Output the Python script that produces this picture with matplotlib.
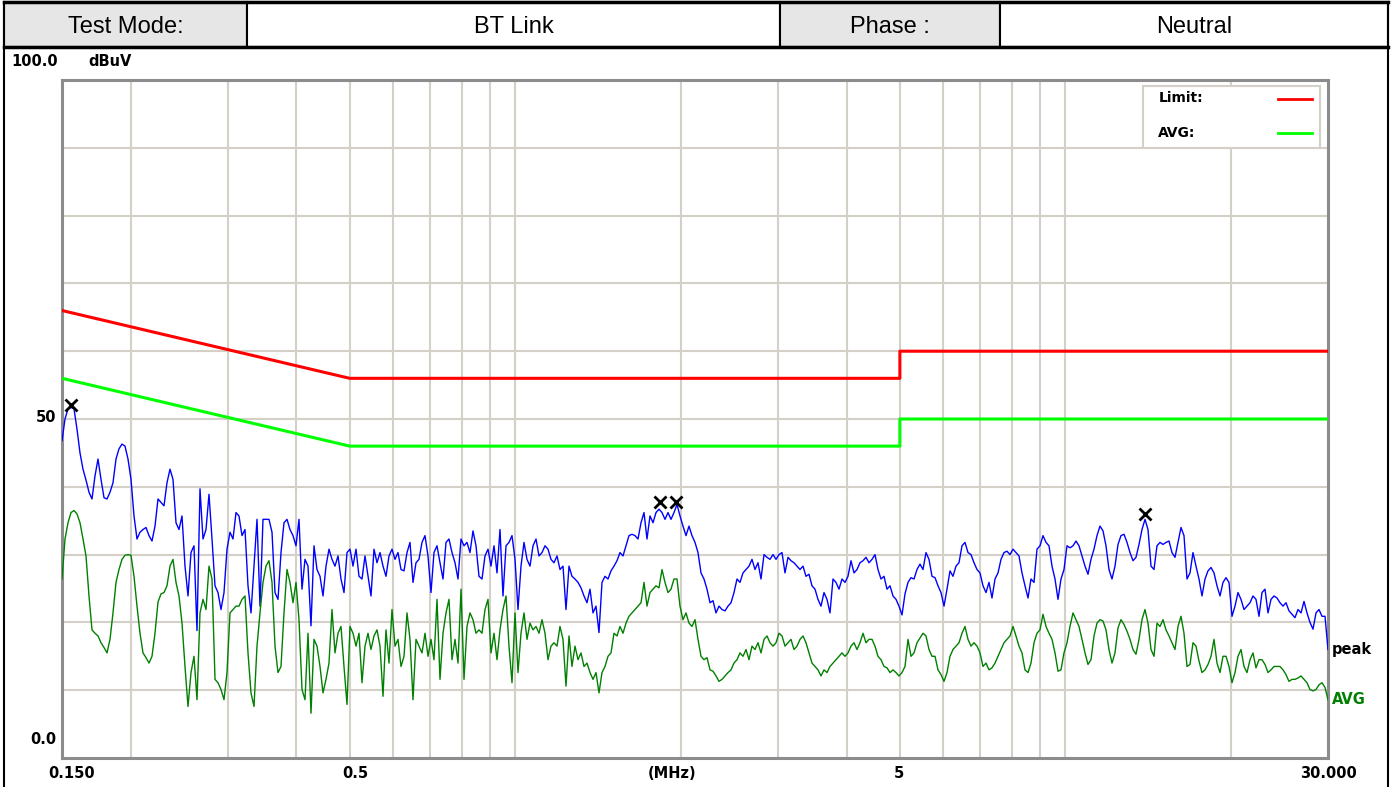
import numpy as np
import matplotlib
matplotlib.use('Agg')
import matplotlib.pyplot as plt
from matplotlib.patches import Rectangle

# header cells
header_text = ['Test Mode:', 'BT Link', 'Phase :', 'Neutral']
header_edges = [4, 247, 780, 1000, 1388]
header_fill = ['#e6e6e6', 'white', '#e6e6e6', 'white']

# limit lines (MHz, dBuV)
limit_freq = [0.15, 0.5, 0.5, 5, 5, 30]
limit_qp = [66, 56, 56, 56, 60, 60]
limit_avg = [56, 46, 46, 46, 50, 50]

# peak trace, sampled on a log grid 0.15 - 30 MHz
peak = [
    46.8, 50, 51.5, 51.7, 51.5, 48.5, 45, 42.6, 41, 39.2,
    38.2, 41.6, 44.1, 41.1, 38.4, 38.2, 39.2, 40.6, 44.1, 45.6,
    46.3, 46, 44.1, 41.1, 35.7, 32.3, 33.3, 33.7, 34, 32.8,
    32, 34.2, 38.2, 37.7, 37.2, 40.6, 42.6, 41.1, 34.7, 33.7,
    35.7, 28.3, 23.9, 30.3, 31.3, 18.8, 39.7, 32.3, 33.7, 38.9,
    32.3, 25.4, 24.4, 21.9, 24.4, 30.8, 33.3, 32.3, 36.2, 35.7,
    32.8, 33.7, 25.4, 21.4, 28.3, 35.2, 22.4, 35.2, 35.2, 35.2,
    33.3, 24.4, 23.4, 30.3, 34.7, 35.2, 33.7, 32.8, 31.3, 35.2,
    24.9, 29.3, 28.3, 19.5, 31.3, 27.8, 26.8, 23.9, 28.3, 30.8,
    29.3, 28.3, 29.8, 26.4, 24.4, 30.3, 30.8, 28.3, 30.8, 26.8,
    26.4, 29.8, 26.8, 23.9, 30.8, 28.8, 30.3, 28.3, 26.8, 29.8,
    30.8, 29.3, 30.3, 27.8, 27.6, 30.3, 31.8, 25.9, 28.8, 29.3,
    31.8, 32.8, 29.8, 24.4, 30.3, 31.3, 28.8, 26.4, 31.8, 32.3,
    30.3, 28.8, 26.4, 32.3, 31.3, 31.8, 30.3, 33.5, 31.3, 26.8,
    26.4, 29.8, 30.8, 28.3, 31.3, 27.3, 33.7, 23.9, 31.3, 31.8,
    32.8, 29.3, 21.9, 28.3, 31.8, 29.3, 28.3, 31.3, 32.3, 29.8,
    30.3, 31.3, 30.8, 29.3, 28.8, 29.8, 27.8, 28.3, 21.9, 28.3,
    26.8, 26.4, 25.9, 25.1, 23.9, 22.9, 24.9, 21.4, 22.4, 18.5,
    25.9, 26.8, 26.4, 27.6, 28.3, 29.1, 30.3, 29.8, 31.3, 32.8,
    33, 32.8, 32.3, 34.7, 36.2, 32.3, 35.7, 34.7, 36.2, 36.7,
    36.2, 35.2, 36.2, 35.2, 36.2, 37.4, 35.7, 34.2, 32.8, 34.2,
    32.8, 31.8, 30.3, 27.3, 26.4, 24.9, 22.9, 23.2, 21.4, 22.4,
    21.9, 21.7, 22.4, 22.9, 24.4, 26.4, 25.9, 27.3, 27.8, 28.3,
    29.3, 27.8, 28.8, 26.4, 30, 29.6, 29.3, 30, 29.3, 30,
    30.3, 27.3, 29.6, 29.1, 28.8, 28.3, 27.8, 28.3, 26.8, 27.1,
    25.4, 24.9, 23.4, 22.4, 24.4, 23.4, 21.4, 26.4, 25.9, 24.9,
    26.4, 25.9, 26.8, 29.1, 27.3, 27.8, 28.8, 29.1, 29.6, 28.8,
    29.3, 30, 27.8, 26.4, 26.8, 24.9, 25.4, 23.9, 23.4, 22.4,
    21.1, 24.2, 25.9, 26.6, 26.4, 27.8, 28.6, 27.8, 30.3, 29.3,
    26.8, 26.6, 25.4, 24.4, 22.4, 24.9, 27.6, 26.8, 28.3, 28.8,
    31.3, 31.8, 30.3, 30, 28.8, 27.8, 27.3, 25.4, 24.4, 25.9,
    23.6, 26.4, 27.3, 29.3, 30.3, 30.5, 30, 30.8, 30.3, 29.8,
    27.3, 25.4, 23.6, 26.4, 25.9, 30.8, 31.3, 32.8, 31.8, 31.3,
    28.3, 26.4, 23.4, 26.4, 27.8, 31.3, 31, 31.3, 32, 31.3,
    29.8, 28.3, 27.1, 29.3, 30.8, 32.8, 34.2, 33.5, 31.3, 27.8,
    26.4, 28.3, 31.5, 32.8, 33, 31.8, 30.3, 29.1, 29.6, 31.5,
    33.7, 35.2, 33.7, 28.3, 27.8, 31.3, 31.8, 31.5, 31.8, 32,
    30.3, 29.6, 31.8, 34, 32.8, 26.4, 27.3, 30.3, 28.3, 26.4,
    23.9, 26.4, 27.6, 28.1, 27.3, 25.4, 23.9, 25.9, 26.6, 25.9,
    20.9, 22.4, 24.4, 23.4, 21.9, 22.4, 22.9, 23.9, 23.4, 20.9,
    24.4, 24.9, 21.4, 23.4, 23.9, 23.6, 22.9, 22.4, 22.9, 21.7,
    21.2, 20.7, 21.9, 21.4, 23.1, 21.4, 20, 19, 21.4, 21.9,
    20.9, 20.9, 16,
]

# average trace, same grid
avg = [
    26.4, 32.3, 34.7, 36.2, 36.5, 36, 34.7, 32.3, 29.8, 23.9,
    18.9, 18.4, 18, 17, 16.3, 15.5, 17.5, 21.4, 25.9, 27.8,
    29.3, 29.9, 30, 29.9, 26.8, 22.4, 18.4, 15.5, 14.8, 14,
    15, 18.4, 23, 24.2, 24.4, 25.4, 28.3, 29.3, 25.9, 23.9,
    19.9, 13.5, 7.6, 12.6, 15, 8.6, 21.4, 23.4, 21.9, 28.3,
    26.4, 11.6, 11.1, 10.1, 8.6, 12.6, 21.4, 21.9, 22.4, 22.4,
    23.4, 23.9, 15.5, 9.6, 7.6, 16.5, 21.4, 25.9, 28.3, 29.1,
    25.9, 16.5, 12.6, 13.5, 21.4, 27.8, 25.9, 22.9, 25.9, 20.4,
    10.1, 8.6, 18.4, 6.6, 17.5, 16.5, 13.5, 9.6, 11.6, 14,
    21.9, 15.5, 18.4, 19.4, 13.5, 7.9, 19.4, 18.4, 16.5, 18.4,
    11.1, 16.5, 18.4, 16, 18, 18.9, 16.5, 9.1, 18.9, 14,
    21.9, 16.5, 17.5, 13.5, 15, 21.4, 17.5, 8.6, 17.5, 16.5,
    15.5, 18.4, 15, 17.5, 14.5, 23.4, 11.6, 18.4, 21.4, 23.4,
    14.5, 17.5, 14, 24.9, 11.6, 19.4, 21.4, 20.4, 18.4, 18.9,
    18.4, 21.9, 23.4, 15.5, 18.4, 14.5, 18.9, 21.9, 23.9, 16.5,
    11.1, 21.4, 12.6, 18.4, 21.4, 17.5, 19.9, 18.9, 19.4, 18.4,
    20.4, 18.4, 14.5, 16.5, 17, 16.5, 19.4, 17.5, 10.6, 18,
    13.5, 16.5, 14.5, 15.5, 13.5, 14, 12.6, 11.6, 12.6, 9.6,
    12.6, 13.5, 15, 15.5, 18.4, 18, 19.4, 18.4, 19.9, 20.9,
    21.4, 21.9, 22.4, 22.9, 25.9, 22.4, 24.4, 24.9, 25.4, 25.1,
    27.8, 25.9, 24.4, 24.9, 26.4, 26.4, 22.4, 20.4, 21.4, 19.9,
    19.4, 20.4, 17.5, 15, 14.5, 14.8, 13, 12.8, 12.1, 11.3,
    11.6, 12.1, 12.6, 13, 14, 14.5, 15.5, 15, 16, 14.5,
    16.5, 16, 17, 15.5, 17.5, 18, 17, 16.5, 17, 18.4,
    18, 16.5, 17, 17.5, 16, 16.5, 17.5, 18, 17, 15.5,
    14, 13.5, 13, 12.1, 13, 12.6, 13.5, 14, 14.5, 15,
    15.5, 15, 15.5, 16.5, 17, 16, 17, 18.4, 17, 17.5,
    17.5, 16.5, 15, 14.5, 13.5, 13.3, 12.6, 13, 12.6, 12.1,
    12.6, 13.5, 17.5, 15, 15.5, 17, 17.7, 18.4, 18, 16,
    15, 15, 13, 12.3, 11.3, 12.6, 15, 16, 16.5, 17,
    18.4, 19.4, 17.5, 16.5, 17, 16.5, 15.5, 13.5, 14, 13,
    13.3, 14, 15, 16, 17, 17.5, 18, 19.4, 18, 16.5,
    15.5, 13, 12.6, 14, 17, 18.4, 18.9, 21.2, 19.4, 18.4,
    17.5, 15.5, 12.8, 13, 15.5, 17, 19.4, 21.4, 20.4, 19.4,
    17.5, 15.5, 13.8, 14.5, 18, 19.9, 20.4, 20.2, 18.9, 16,
    14, 15.5, 19.2, 20.4, 19.7, 18.7, 17.5, 16, 15.3, 17.5,
    20.4, 21.9, 19.9, 16, 15, 19.9, 19.4, 20.4, 18.9, 18,
    17, 16, 19.4, 20.9, 18.4, 13.5, 13.8, 17, 16.5, 14.3,
    12.6, 13, 13.8, 15, 17.5, 14, 12.6, 15, 15, 13.5,
    11.1, 12.6, 15, 16, 13.5, 12.6, 14.5, 15.5, 13.3, 14.5,
    14.5, 13.8, 12.6, 13, 13.5, 13.5, 13.5, 13, 12.3, 11.3,
    11.6, 11.6, 11.8, 12.1, 11.6, 11.1, 10.1, 9.9, 10.1, 10.8,
    11.1, 10.4, 8.6,
]

# peak markers
marker_freq = [0.156, 1.836, 1.962, 13.97]
marker_level = [52.1, 37.7, 37.7, 36.0]

grid_freq = [0.2, 0.3, 0.4, 0.5, 0.6, 0.7, 0.8, 0.9, 1, 2, 3, 4, 5, 6, 7, 8, 9, 10, 20]
grid_level = [10, 20, 30, 40, 50, 60, 70, 80, 90]

freq = np.geomspace(0.15, 30, len(peak))

W, H = 1393, 787
fig = plt.figure(figsize=(W / 100, H / 100), dpi=100)
fig.patch.set_facecolor('white')

# background frame + header in pixel coordinates
bg = fig.add_axes([0, 0, 1, 1])
bg.set_xlim(0, W)
bg.set_ylim(H, 0)
bg.axis('off')
for i, t in enumerate(header_text):
    x0, x1 = header_edges[i], header_edges[i + 1]
    bg.add_patch(Rectangle((x0, 2), x1 - x0, 45, facecolor=header_fill[i],
                           edgecolor='black', lw=1.5))
    bg.text((x0 + x1) / 2, 27, t, ha='center', va='center', fontsize=17,
            family='Liberation Sans')
bg.plot([4, 1388], [2, 2], color='black', lw=2.5)
bg.plot([4, 1388], [47, 47], color='black', lw=2.5)
bg.plot([4, 4], [2, H], color='black', lw=1.5)
bg.plot([1388, 1388], [2, H], color='black', lw=1.5)

ax = fig.add_axes([62 / W, (H - 758) / H, 1266 / W, 678 / H])
ax.set_xscale('log')
ax.set_xlim(0.15, 30)
ax.set_ylim(0, 100)
ax.minorticks_off()
ax.set_xticks(grid_freq)
ax.set_yticks(grid_level)
ax.tick_params(length=0, labelbottom=False, labelleft=False)
ax.grid(True, color='#d4d0c8', lw=1.5)
ax.set_axisbelow(True)
for s in ax.spines.values():
    s.set_color('#8c8c8c')
    s.set_linewidth(2.2)

ax.plot(limit_freq, limit_qp, color='#ff0000', lw=2.2, zorder=3)
ax.plot(limit_freq, limit_avg, color='#00ff00', lw=2.2, zorder=3)
ax.plot(freq, peak, color='#0000ff', lw=1.0, zorder=4)
ax.plot(freq, avg, color='#008000', lw=1.0, zorder=4)
ax.plot(marker_freq, marker_level, 'x', color='black', ms=9, mew=2, zorder=5)

# legend box
ax.add_patch(Rectangle((0.854, 0.900), 0.1397, 0.091, transform=ax.transAxes,
                       facecolor='white', edgecolor='#d4d0c8', lw=1.5, zorder=6))
ax.text(0.866, 0.973, 'Limit:', transform=ax.transAxes, fontsize=10,
        fontweight='bold', va='center', zorder=7)
ax.text(0.866, 0.922, 'AVG:', transform=ax.transAxes, fontsize=10,
        fontweight='bold', va='center', zorder=7)
ax.plot([0.9605, 0.987], [0.972, 0.972], color='#ff0000', lw=2,
        transform=ax.transAxes, zorder=7)
ax.plot([0.9605, 0.987], [0.922, 0.922], color='#00ff00', lw=2,
        transform=ax.transAxes, zorder=7)

# axis labels
lab = dict(fontsize=10.5, fontweight='bold', family='DejaVu Sans')
for f, dx, s in [(0.15, 10, '0.150'), (0.5, 6, '0.5'), (5, -1, '5'),
                 (30, 0, '30.000'), (1.93, 0, '(MHz)')]:
    ax.annotate(s, xy=(f, 0), xycoords=('data', 'axes fraction'),
                xytext=(dx, -15), textcoords='offset pixels',
                ha='center', va='center', annotation_clip=False, **lab)
ax.annotate('100.0', xy=(0, 1), xycoords='axes fraction', xytext=(-27, 18),
            textcoords='offset pixels', ha='center', va='center', **lab)
ax.annotate('dBuV', xy=(0, 1), xycoords='axes fraction', xytext=(48, 18),
            textcoords='offset pixels', ha='center', va='center', **lab)
ax.annotate('50', xy=(0, 50), xycoords=('axes fraction', 'data'), xytext=(-6, 1),
            textcoords='offset pixels', ha='right', va='center', **lab)
ax.annotate('0.0', xy=(0, 0), xycoords='axes fraction', xytext=(-6, 18),
            textcoords='offset pixels', ha='right', va='center', **lab)
ax.annotate('peak', xy=(30, peak[-1]), xytext=(4, 0), textcoords='offset pixels',
            ha='left', va='center', annotation_clip=False, **lab)
ax.annotate('AVG', xy=(30, avg[-1]), xytext=(4, 0), textcoords='offset pixels',
            ha='left', va='center', annotation_clip=False, color='#008000', **lab)

fig.savefig('out.png', dpi=100)
